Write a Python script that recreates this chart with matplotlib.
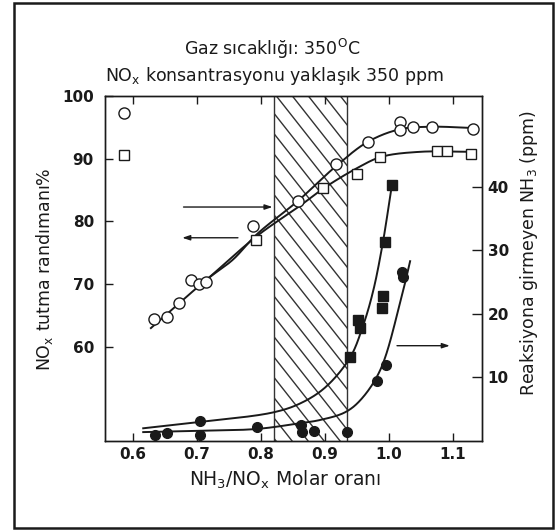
import numpy as np
import matplotlib
matplotlib.use("Agg")
import matplotlib.pyplot as plt
from matplotlib.patches import Rectangle

plt.rcParams['font.family'] = ['DejaVu Sans']
plt.rcParams['mathtext.default'] = 'regular'

# ---------------- data ----------------
# NOx removal efficiency (%), left axis
circ_x = [0.586, 0.633, 0.653, 0.672, 0.691, 0.703, 0.714, 0.788, 0.858, 0.917,
          0.967, 1.017, 1.017, 1.038, 1.067, 1.131]
circ_y = [97.3, 64.5, 64.8, 67.0, 70.7, 70.0, 70.4, 79.3, 83.3, 89.2,
          92.7, 95.9, 94.6, 95.1, 95.1, 94.7]
sq_x = [0.586, 0.792, 0.897, 0.950, 0.986, 1.075, 1.091, 1.128]
sq_y = [90.6, 77.1, 85.3, 87.6, 90.3, 91.2, 91.2, 90.8]

# fitted curves (knots)
circ_curve_x = [0.628, 0.716, 0.756, 0.794, 0.858, 0.917, 0.967, 1.017, 1.067, 1.131]
circ_curve_y = [63.0, 70.8, 73.9, 78.0, 83.3, 88.8, 92.7, 94.7, 95.1, 94.9]
sq_curve_x = [0.716, 0.794, 0.861, 0.898, 0.950, 0.988, 1.048, 1.131]
sq_curve_y = [70.8, 77.7, 82.5, 85.3, 88.5, 90.3, 91.1, 91.1]

# unreacted NH3 (ppm), right axis
fsq_x = [1.005, 0.994, 0.991, 0.989, 0.952, 0.955, 0.939]
fsq_y = [40.3, 31.3, 22.8, 21.0, 19.0, 17.8, 13.2]
fci_x = [1.020, 1.022, 0.995, 0.981, 0.634, 0.653, 0.705, 0.705, 0.794,
         0.862, 0.864, 0.883, 0.934]
fci_y = [26.6, 25.8, 12.0, 9.4, 0.9, 1.3, 3.1, 0.9, 2.2,
         2.5, 1.4, 1.6, 1.4]

fsq_curve_x = [0.616, 0.705, 0.819, 0.861, 0.900, 0.939, 0.959, 0.975, 0.990, 1.005]
fsq_curve_y = [2.0, 3.0, 4.5, 5.9, 8.4, 13.1, 18.0, 23.5, 31.0, 40.6]
fci_curve_x = [0.616, 0.705, 0.794, 0.861, 0.892, 0.931, 0.955, 0.986, 1.017, 1.033]
fci_curve_y = [1.4, 1.6, 1.9, 2.8, 3.3, 4.5, 6.4, 11.1, 21.6, 28.3]

hatch_x = [0.82, 0.935]

x_ticks = [0.6, 0.7, 0.8, 0.9, 1.0, 1.1]
x_ticklabels = ['0.6', '0.7', '0.8', '0.9', '1.0', '1.1']
left_ticks = [60, 70, 80, 90, 100]
right_ticks = [10, 20, 30, 40]

title1 = 'Gaz sıcaklığı: 350$^{O}$C'
title2 = 'NO$_{x}$ konsantrasyonu yaklaşık 350 ppm'
xlabel = 'NH$_{3}$/NO$_{x}$ Molar oranı'
ylabel_left = 'NO$_{x}$ tutma randımanı%'
ylabel_right = 'Reaksiyona girmeyen NH$_{3}$ (ppm)'


def smooth(xs, ys, sx, sy, n=40):
    P = np.column_stack([np.asarray(xs, float) * sx, np.asarray(ys, float) * sy])
    P = np.vstack([2 * P[0] - P[1], P, 2 * P[-1] - P[-2]])
    out = []
    for i in range(1, len(P) - 2):
        p0, p1, p2, p3 = P[i - 1], P[i], P[i + 1], P[i + 2]
        t0 = 0.0
        t1 = t0 + np.linalg.norm(p1 - p0) ** 0.5 + 1e-9
        t2 = t1 + np.linalg.norm(p2 - p1) ** 0.5 + 1e-9
        t3 = t2 + np.linalg.norm(p3 - p2) ** 0.5 + 1e-9
        t = np.linspace(t1, t2, n)[:, None]
        A1 = (t1 - t) / (t1 - t0) * p0 + (t - t0) / (t1 - t0) * p1
        A2 = (t2 - t) / (t2 - t1) * p1 + (t - t1) / (t2 - t1) * p2
        A3 = (t3 - t) / (t3 - t2) * p2 + (t - t2) / (t3 - t2) * p3
        B1 = (t2 - t) / (t2 - t0) * A1 + (t - t0) / (t2 - t0) * A2
        B2 = (t3 - t) / (t3 - t1) * A2 + (t - t1) / (t3 - t1) * A3
        C = (t2 - t) / (t2 - t1) * B1 + (t - t1) / (t2 - t1) * B2
        out.append(C)
    C = np.vstack(out)
    return C[:, 0] / sx, C[:, 1] / sy


W, H = 558, 532
fig = plt.figure(figsize=(W / 100, H / 100), dpi=100)
ax = fig.add_axes([105 / W, 1 - 441 / H, (482 - 105) / W, (441 - 96) / H])
XL = (0.5563, 1.1453)
YL = (45.0, 100.0)
ax.set_xlim(*XL)
ax.set_ylim(*YL)
ax2 = ax.twinx()
ax2.set_ylim(0, 54.3)

ink = '#1a1a1a'

# hatched region: diagonal lines clipped to the band
band = Rectangle((hatch_x[0], YL[0]), hatch_x[1] - hatch_x[0], YL[1] - YL[0],
                 transform=ax.transData, facecolor='none', edgecolor='none')
ax.add_patch(band)
px_per_x = 640.0
px_per_y = 6.275
slope_px = 1.27          # pixel drop per pixel to the right
step_x = 16.0 / px_per_x  # horizontal spacing of hatch lines
drop_x = (YL[1] - YL[0]) * px_per_y / slope_px / px_per_x
for xt in np.arange(hatch_x[0] + 0.004 - 20 * step_x, hatch_x[1] + step_x, step_x):
    ln, = ax.plot([xt, xt + drop_x], [YL[1], YL[0]], color='#333333', lw=1.0,
                  zorder=1)
    ln.set_clip_path(band)
for hx in hatch_x:
    ax.axvline(hx, color='#333333', lw=1.0, zorder=1.5)

# NOx curves
cx, cy = smooth(circ_curve_x, circ_curve_y, px_per_x, px_per_y)
ax.plot(cx, cy, color=ink, lw=1.4, zorder=2)
sx_, sy_ = smooth(sq_curve_x, sq_curve_y, px_per_x, px_per_y)
ax.plot(sx_, sy_, color=ink, lw=1.4, zorder=2)
ax.plot(circ_x, circ_y, 'o', ms=8, mfc='white', mec=ink, mew=1.0, zorder=3,
        clip_on=False)
ax.plot(sq_x, sq_y, 's', ms=7, mfc='white', mec=ink, mew=1.0, zorder=3,
        clip_on=False)

# NH3 curves
fx, fy = smooth(fsq_curve_x, fsq_curve_y, px_per_x, 6.35)
ax2.plot(fx, fy, color=ink, lw=1.4, zorder=2)
gx, gy = smooth(fci_curve_x, fci_curve_y, px_per_x, 6.35)
ax2.plot(gx, gy, color=ink, lw=1.4, zorder=2)
ax2.plot(fsq_x, fsq_y, 's', ms=7, color=ink, zorder=3)
ax2.plot(fci_x, fci_y, 'o', ms=7, color=ink, zorder=3)

# arrows
ap = dict(arrowstyle='-|>,head_length=0.45,head_width=0.15', color=ink, lw=1.0,
          shrinkA=0, shrinkB=0)
ax.annotate('', xy=(0.818, 82.3), xytext=(0.679, 82.3), arrowprops=ap)
ax.annotate('', xy=(0.677, 77.4), xytext=(0.764, 77.4), arrowprops=ap)
ax2.annotate('', xy=(1.095, 15.0), xytext=(1.0125, 15.0), arrowprops=ap)

# ticks
ax.set_xticks(x_ticks)
ax.set_xticklabels(x_ticklabels)
ax.set_yticks(left_ticks)
ax2.set_yticks(right_ticks)
ax.tick_params(axis='x', which='both', direction='in', length=6, width=1.0,
               top=True, labelsize=11, pad=4, colors=ink)
ax.tick_params(axis='y', direction='in', length=6, width=1.0, labelsize=11,
               pad=8, colors=ink)
ax2.tick_params(axis='y', direction='in', length=7, width=1.0, labelsize=11,
                pad=4, colors=ink)
for lab in ax.get_xticklabels() + ax.get_yticklabels() + ax2.get_yticklabels():
    lab.set_fontweight('bold')
for a in (ax, ax2):
    for s in a.spines.values():
        s.set_linewidth(1.0)
        s.set_color(ink)

# texts
fig.text(272 / W, 1 - 49 / H, title1, ha='center', va='center', fontsize=12.5,
         color=ink)
fig.text(274 / W, 1 - 76 / H, title2, ha='center', va='center', fontsize=12.5,
         color=ink)
fig.text(285 / W, 1 - 480 / H, xlabel, ha='center', va='center', fontsize=13.5,
         color=ink)
fig.text(45 / W, 1 - 269 / H, ylabel_left, ha='center', va='center',
         rotation=90, fontsize=12.5, color=ink)
fig.text(529 / W, 1 - 253 / H, ylabel_right, ha='center', va='center',
         rotation=90, fontsize=12.5, color=ink)

# outer frame
fig.patches.append(Rectangle((14 / W, 1 - 528 / H), (553 - 14) / W, (528 - 3) / H,
                             transform=fig.transFigure, fill=False,
                             edgecolor=ink, lw=1.8))

fig.savefig('out.png', dpi=100)
